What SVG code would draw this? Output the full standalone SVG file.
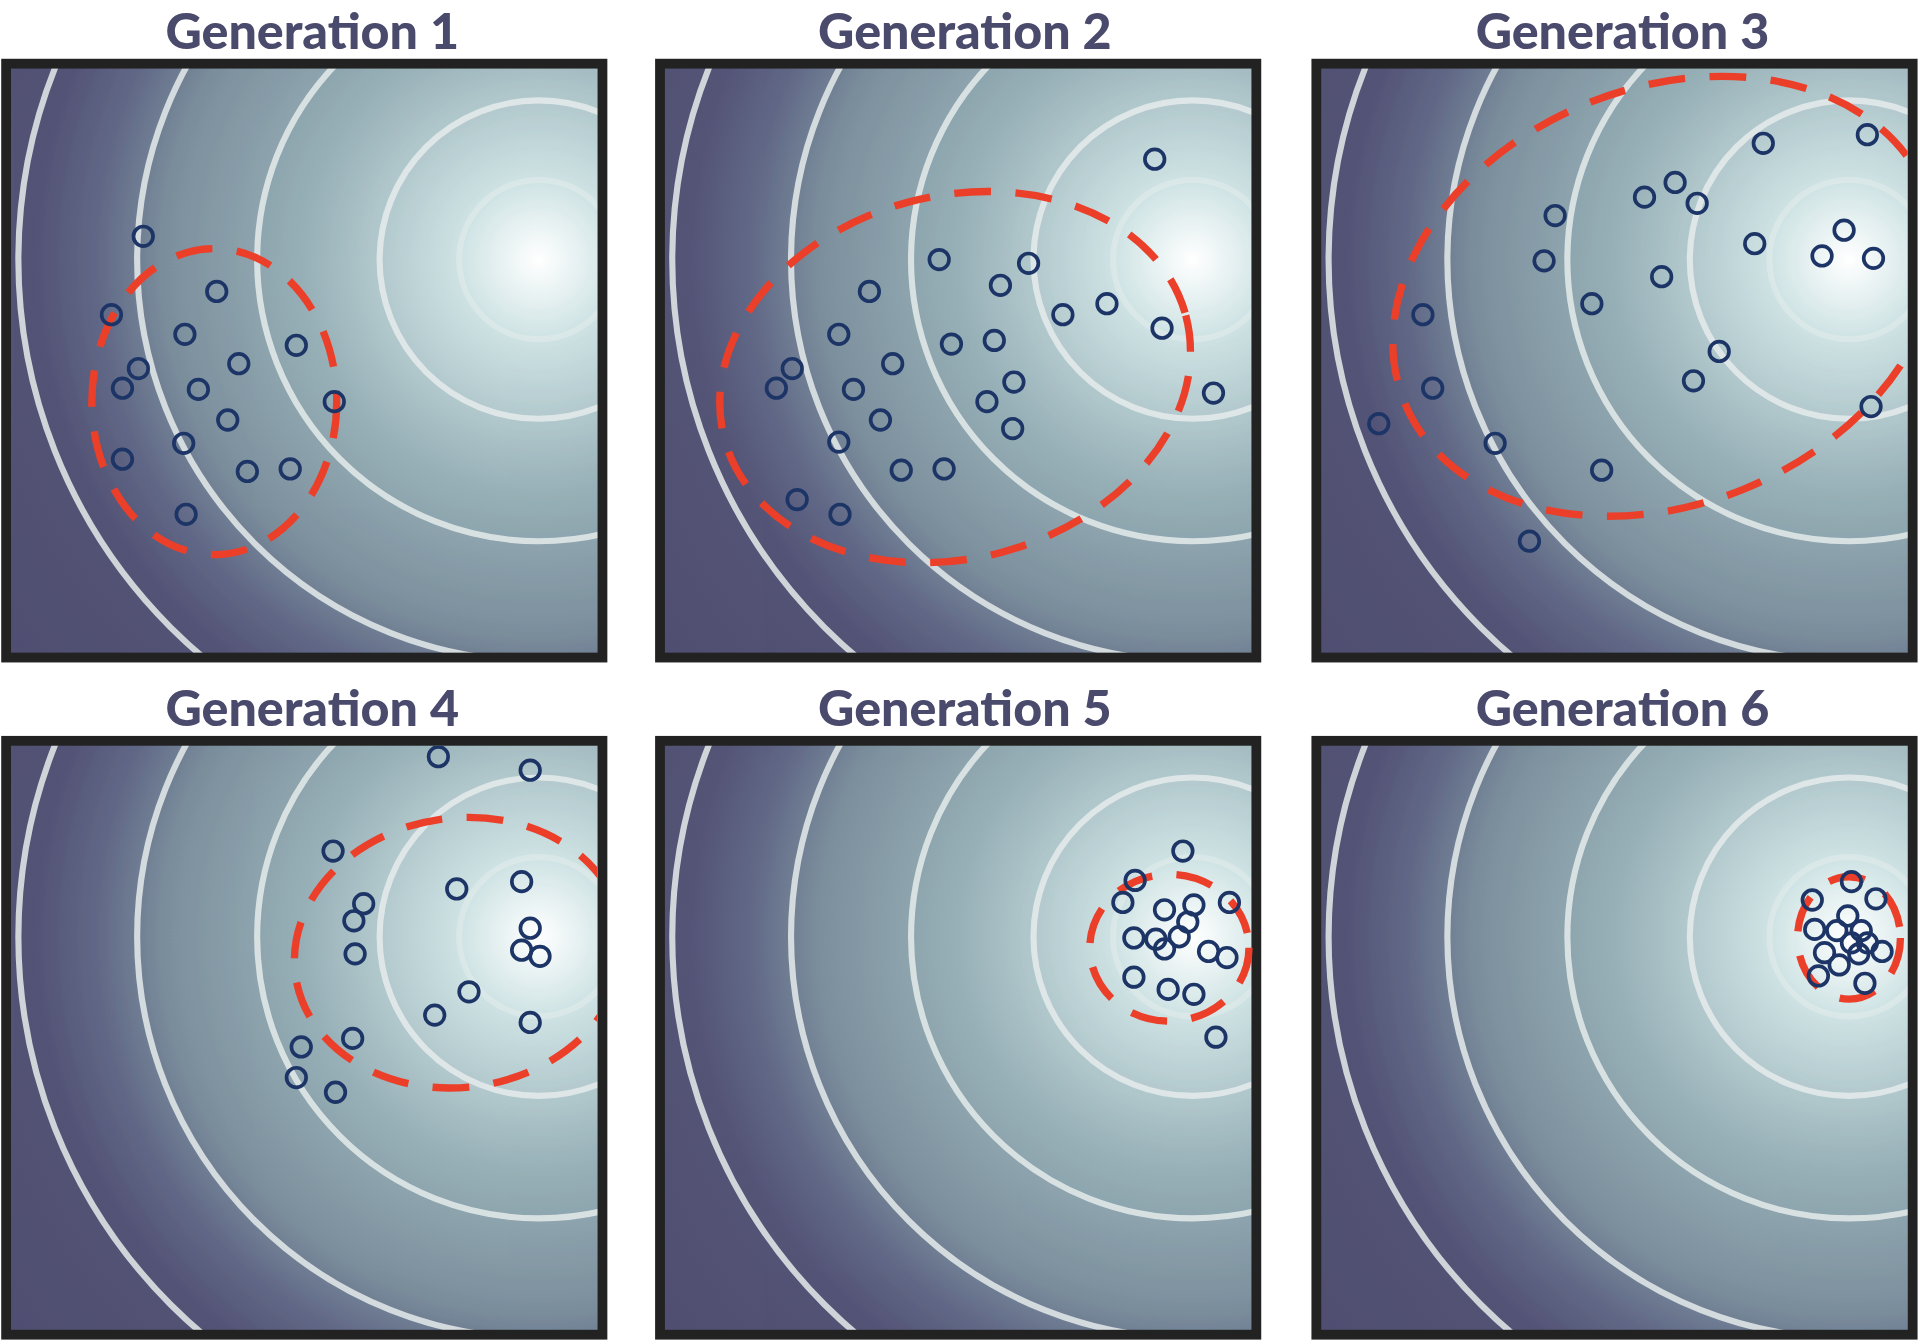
<svg xmlns="http://www.w3.org/2000/svg" width="1920" height="1344" viewBox="0 0 1920 1344">
<defs>
<radialGradient id="bg" gradientUnits="userSpaceOnUse" cx="435" cy="160" r="640">
<stop offset="0" stop-color="#ffffff"/>
<stop offset="0.1" stop-color="#cfe3e4"/>
<stop offset="0.3" stop-color="#97b0b7"/>
<stop offset="0.48" stop-color="#7b8e9c"/>
<stop offset="0.56" stop-color="#626a88"/>
<stop offset="0.64" stop-color="#545477"/>
<stop offset="0.88" stop-color="#4e4d70"/>
<stop offset="1" stop-color="#2b2d44"/>
</radialGradient>
<clipPath id="cp"><rect x="0" y="0" width="487" height="485"/></clipPath>
<g id="panel">
<g clip-path="url(#cp)">
<rect x="0" y="0" width="487" height="485" fill="url(#bg)"/>
<g fill="none" stroke="#e6ecec" stroke-width="5" opacity="0.85">
<circle cx="435" cy="160" r="65" stroke-opacity="0.6"/>
<circle cx="435" cy="160" r="130"/>
<circle cx="435" cy="160" r="230"/>
<circle cx="435" cy="160" r="328"/>
<circle cx="435" cy="160" r="425"/>
</g>
</g>
<rect x="0" y="0" width="487" height="485" fill="none" stroke="#222" stroke-width="8"/>
</g>
<clipPath id="c4"><rect x="9" y="609" width="479" height="477"/></clipPath>
<clipPath id="c3"><rect x="1079" y="56" width="479" height="477"/></clipPath>
</defs>
<style>
.t{font-family:Lato,"Liberation Sans",sans-serif;font-weight:900;font-size:41px;fill:#4a4a6c;text-anchor:middle}
.p circle{fill:none;stroke:#1d3566;stroke-width:3}
.e{fill:none;stroke:#ec3f2a;stroke-width:6;stroke-dasharray:30 20}
</style>
<g transform="scale(1.2245)">
<g id="gen1">
<text class="t" x="255" y="40">Generation 1</text>
<use href="#panel" x="5" y="52"/>
<ellipse class="e" cx="175" cy="328" rx="100" ry="125"/>
<g class="p"><circle cx="117" cy="193" r="8"/><circle cx="177" cy="238" r="8"/><circle cx="91" cy="257" r="8"/><circle cx="151" cy="273" r="8"/><circle cx="242" cy="282" r="8"/><circle cx="113" cy="301" r="8"/><circle cx="195" cy="297" r="8"/><circle cx="100" cy="317" r="8"/><circle cx="162" cy="318" r="8"/><circle cx="273" cy="328" r="8"/><circle cx="186" cy="343" r="8"/><circle cx="150" cy="362" r="8"/><circle cx="100" cy="375" r="8"/><circle cx="202" cy="385" r="8"/><circle cx="237" cy="383" r="8"/><circle cx="152" cy="420" r="8"/></g>
</g>
<g id="gen2">
<text class="t" x="788" y="40">Generation 2</text>
<use href="#panel" x="539" y="52"/>
<ellipse class="e" cx="780" cy="308" rx="195" ry="148" transform="rotate(-15 780 308)"/>
<g class="p"><circle cx="943" cy="130" r="8"/><circle cx="767" cy="212" r="8"/><circle cx="840" cy="215" r="8"/><circle cx="710" cy="238" r="8"/><circle cx="817" cy="233" r="8"/><circle cx="904" cy="248" r="8"/><circle cx="868" cy="257" r="8"/><circle cx="949" cy="268" r="8"/><circle cx="685" cy="273" r="8"/><circle cx="777" cy="281" r="8"/><circle cx="812" cy="278" r="8"/><circle cx="647" cy="301" r="8"/><circle cx="729" cy="297" r="8"/><circle cx="634" cy="317" r="8"/><circle cx="697" cy="318" r="8"/><circle cx="828" cy="312" r="8"/><circle cx="806" cy="328" r="8"/><circle cx="991" cy="321" r="8"/><circle cx="719" cy="343" r="8"/><circle cx="827" cy="350" r="8"/><circle cx="685" cy="361" r="8"/><circle cx="736" cy="384" r="8"/><circle cx="771" cy="383" r="8"/><circle cx="651" cy="408" r="8"/><circle cx="686" cy="420" r="8"/></g>
</g>
<g id="gen3">
<text class="t" x="1325" y="40">Generation 3</text>
<use href="#panel" x="1075" y="52"/>
<g clip-path="url(#c3)"><ellipse class="e" cx="1360" cy="242" rx="230" ry="170" transform="rotate(-22 1360 242)"/></g>
<g class="p"><circle cx="1525" cy="110" r="8"/><circle cx="1440" cy="117" r="8"/><circle cx="1368" cy="149" r="8"/><circle cx="1343" cy="161" r="8"/><circle cx="1386" cy="166" r="8"/><circle cx="1270" cy="176" r="8"/><circle cx="1506" cy="188" r="8"/><circle cx="1433" cy="199" r="8"/><circle cx="1488" cy="209" r="8"/><circle cx="1530" cy="211" r="8"/><circle cx="1261" cy="213" r="8"/><circle cx="1357" cy="226" r="8"/><circle cx="1300" cy="248" r="8"/><circle cx="1162" cy="257" r="8"/><circle cx="1404" cy="287" r="8"/><circle cx="1383" cy="311" r="8"/><circle cx="1170" cy="317" r="8"/><circle cx="1528" cy="332" r="8"/><circle cx="1126" cy="346" r="8"/><circle cx="1221" cy="362" r="8"/><circle cx="1308" cy="384" r="8"/><circle cx="1249" cy="442" r="8"/></g>
</g>
<g id="gen4">
<text class="t" x="255" y="593">Generation 4</text>
<use href="#panel" x="5" y="605"/>
<g clip-path="url(#c4)"><ellipse class="e" cx="375" cy="778" rx="135" ry="110" transform="rotate(-8 375 778)"/></g>
<g class="p" clip-path="url(#c4)"><circle cx="358" cy="618" r="8"/><circle cx="433" cy="629" r="8"/><circle cx="272" cy="695" r="8"/><circle cx="426" cy="720" r="8"/><circle cx="373" cy="726" r="8"/><circle cx="297" cy="738" r="8"/><circle cx="289" cy="752" r="8"/><circle cx="433" cy="758" r="8"/><circle cx="426" cy="776" r="8"/><circle cx="441" cy="781" r="8"/><circle cx="290" cy="779" r="8"/><circle cx="383" cy="810" r="8"/><circle cx="355" cy="829" r="8"/><circle cx="433" cy="835" r="8"/><circle cx="288" cy="848" r="8"/><circle cx="246" cy="855" r="8"/><circle cx="242" cy="880" r="8"/><circle cx="274" cy="892" r="8"/></g>
</g>
<g id="gen5">
<text class="t" x="788" y="593">Generation 5</text>
<use href="#panel" x="539" y="605"/>
<ellipse class="e" cx="955" cy="774" rx="65" ry="60"/>
<g class="p"><circle cx="966" cy="695" r="8"/><circle cx="927" cy="719" r="8"/><circle cx="917" cy="737" r="8"/><circle cx="951" cy="743" r="8"/><circle cx="975" cy="739" r="8"/><circle cx="1004" cy="737" r="8"/><circle cx="970" cy="753" r="8"/><circle cx="926" cy="766" r="8"/><circle cx="944" cy="767" r="8"/><circle cx="963" cy="765" r="8"/><circle cx="951" cy="775" r="8"/><circle cx="987" cy="777" r="8"/><circle cx="1002" cy="782" r="8"/><circle cx="926" cy="798" r="8"/><circle cx="954" cy="808" r="8"/><circle cx="975" cy="812" r="8"/><circle cx="993" cy="847" r="8"/></g>
</g>
<g id="gen6">
<text class="t" x="1325" y="593">Generation 6</text>
<use href="#panel" x="1075" y="605"/>
<ellipse class="e" cx="1510" cy="766" rx="42" ry="50"/>
<g class="p"><circle cx="1512" cy="720" r="8"/><circle cx="1480" cy="735" r="8"/><circle cx="1532" cy="734" r="8"/><circle cx="1509" cy="748" r="8"/><circle cx="1482" cy="759" r="8"/><circle cx="1500" cy="760" r="8"/><circle cx="1520" cy="760" r="8"/><circle cx="1512" cy="770" r="8"/><circle cx="1490" cy="778" r="8"/><circle cx="1525" cy="770" r="8"/><circle cx="1537" cy="777" r="8"/><circle cx="1502" cy="788" r="8"/><circle cx="1518" cy="779" r="8"/><circle cx="1485" cy="797" r="8"/><circle cx="1523" cy="803" r="8"/></g>
</g>
</g>
</svg>
